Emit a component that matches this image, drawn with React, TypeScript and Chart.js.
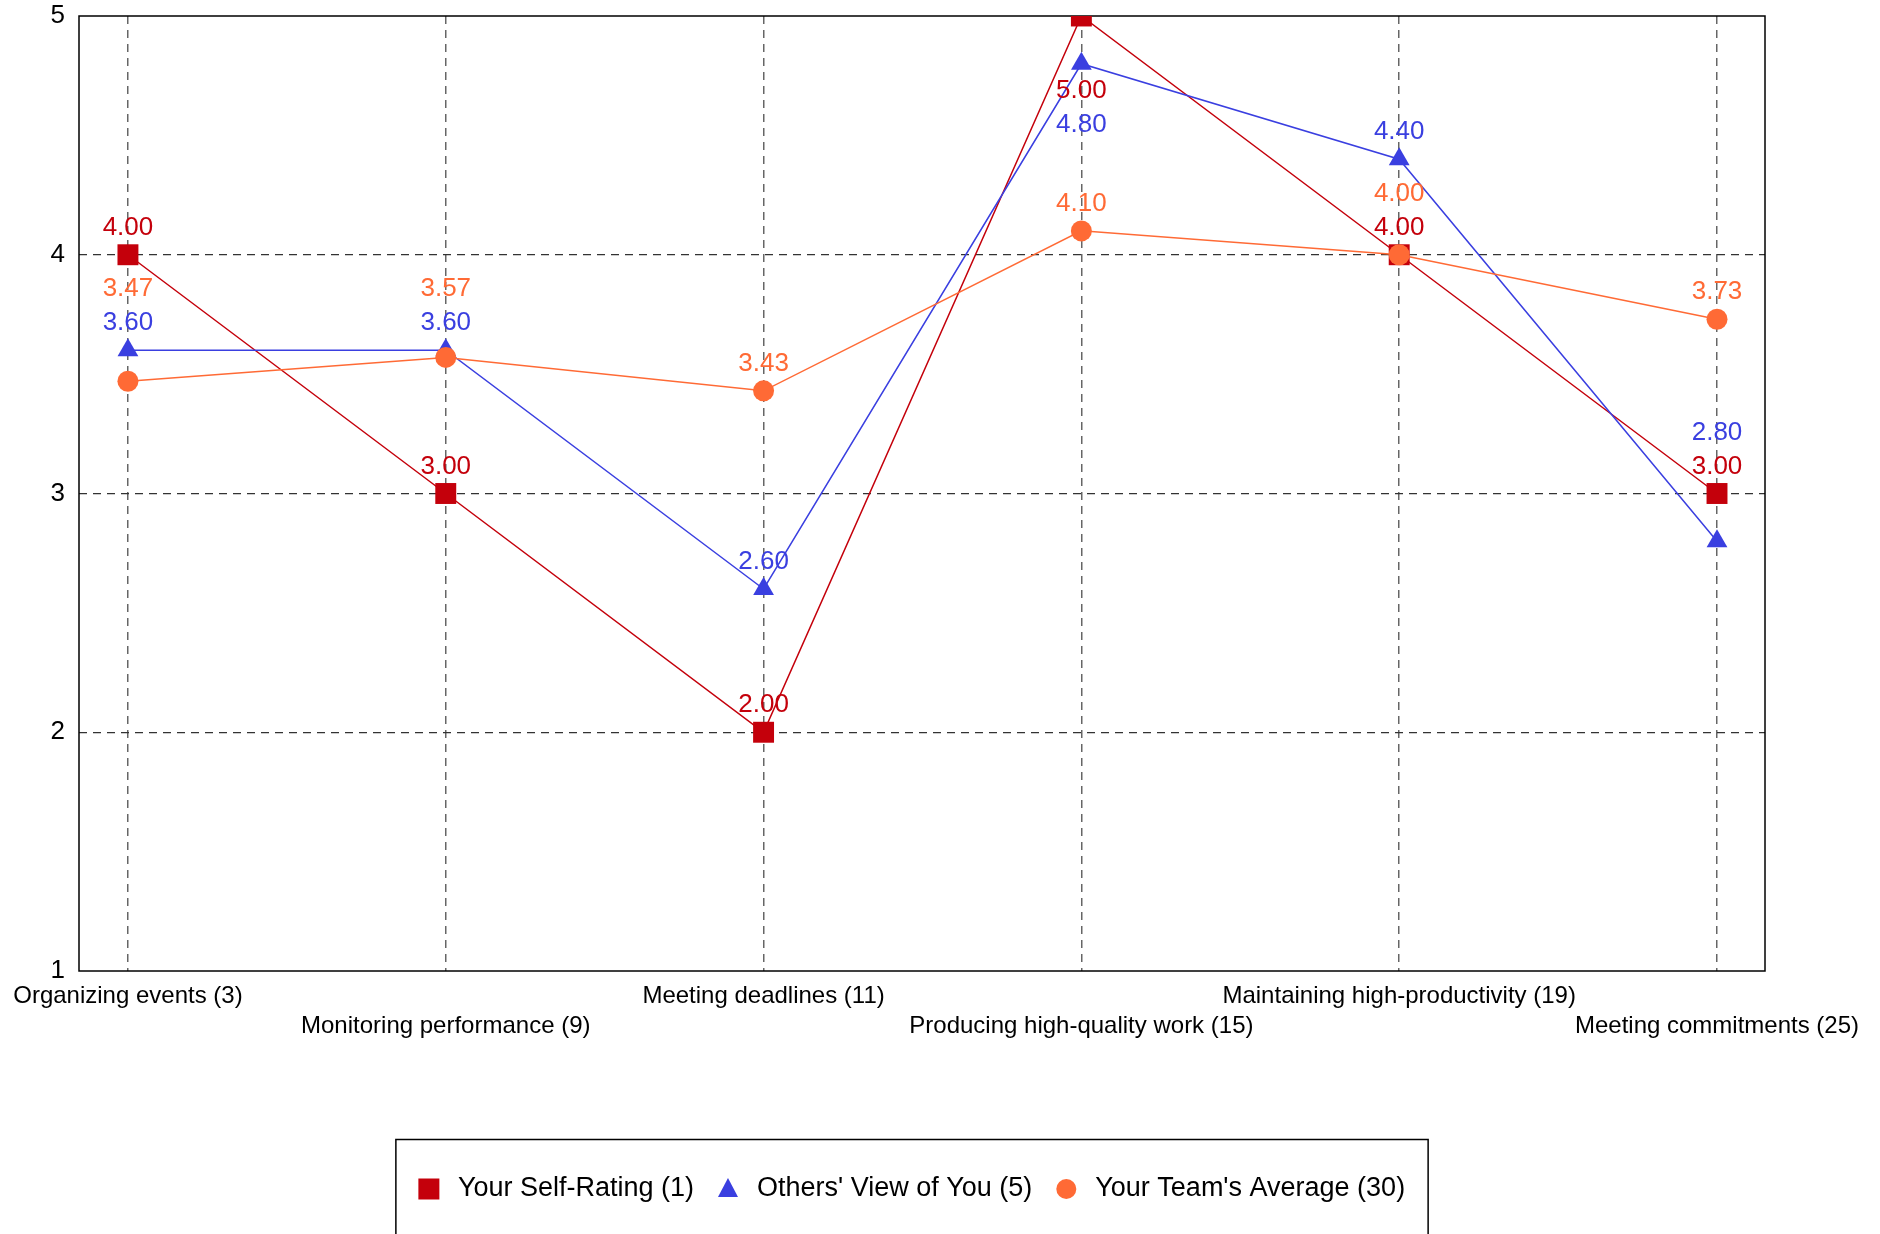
import React, { useEffect, useRef } from "react";
import { Chart, registerables } from "chart.js";
Chart.register(...registerables);

const categories = [
  "Organizing events (3)",
  "Monitoring performance (9)",
  "Meeting deadlines (11)",
  "Producing high-quality work (15)",
  "Maintaining high-productivity (19)",
  "Meeting commitments (25)",
];
const selfRating = [4.0, 3.0, 2.0, 5.0, 4.0, 3.0];
const othersView = [3.6, 3.6, 2.6, 4.8, 4.4, 2.8];
const teamAverage = [3.47, 3.57, 3.43, 4.1, 4.0, 3.73];
const seriesNames = ["Your Self-Rating (1)", "Others' View of You (5)", "Your Team's Average (30)"];
const yTicks = [1, 2, 3, 4, 5];

const RED = "#C4000B";
const BLUE = "#3A3FE0";
const ORANGE = "#FF6A35";
const FONT = "'Liberation Sans', Arial, Helvetica, sans-serif";

const borderPlugin = {
  id: "plotBorder",
  beforeDatasetsDraw(chart: any) {
    const { ctx, chartArea: a } = chart;
    ctx.save();
    ctx.strokeStyle = "#000";
    ctx.lineWidth = 1.5;
    ctx.strokeRect(a.left, a.top, a.right - a.left, a.bottom - a.top);
    ctx.restore();
  },
};

const labelPlugin = {
  id: "valueLabels",
  afterDatasetsDraw(chart: any) {
    const { ctx, chartArea: area } = chart;
    const ys = chart.scales.y;
    const OFF = 27;
    const GAP = 34;
    const minY = area.top + 12;
    ctx.save();
    ctx.font = `26px ${FONT}`;
    ctx.textAlign = "center";
    ctx.textBaseline = "middle";
    const xs = chart.scales.x;
    categories.forEach((_, i) => {
      const items = chart.data.datasets.map((ds: any, d: number) => ({
        d,
        v: ds.data[i].y,
        py: ys.getPixelForValue(ds.data[i].y),
        color: ds.borderColor,
      }));
      const markers = items.map((it: any) => it.py);
      const order = [...items].sort((a: any, b: any) => b.v - a.v || a.d - b.d);
      const placed: number[] = [];
      const conflict = (y: number) => {
        for (const p of placed) if (Math.abs(p - y) < GAP - 0.5) return { y: p, gap: GAP };
        for (const m of markers) if (Math.abs(m - y) < OFF - 0.5) return { y: m, gap: OFF };
        return null;
      };
      const px = xs.getPixelForValue(i);
      for (const it of order) {
        let y = it.py - OFF;
        let ok = false;
        for (let k = 0; k < 12; k++) {
          const c = conflict(y);
          if (!c) {
            ok = y >= minY;
            break;
          }
          y = c.y - c.gap;
          if (y < minY) break;
        }
        if (!ok) {
          y = it.py + OFF;
          for (let k = 0; k < 12; k++) {
            const c = conflict(y);
            if (!c) break;
            y = c.y + c.gap;
          }
        }
        placed.push(y);
        ctx.fillStyle = it.color;
        ctx.fillText(it.v.toFixed(2), px, y);
      }
    });
    ctx.restore();
  },
};

const legendPlugin = {
  id: "boxLegend",
  afterDraw(chart: any) {
    const { ctx } = chart;
    ctx.save();
    ctx.font = `27px ${FONT}`;
    ctx.textBaseline = "middle";
    ctx.textAlign = "left";
    const MW = 20;
    const TG = 19;
    const IG = 24;
    const dss = chart.data.datasets;
    let total = 0;
    dss.forEach((ds: any, k: number) => {
      total += MW + TG + ctx.measureText(ds.label).width + (k < dss.length - 1 ? IG : 0);
    });
    const center = 912;
    const pad = 23;
    const boxL = center - total / 2 - pad;
    const boxW = total + 2 * pad;
    ctx.strokeStyle = "#000";
    ctx.lineWidth = 1.5;
    ctx.strokeRect(boxL, 1139.5, boxW, 200);
    const cy = 1189;
    let x = center - total / 2;
    dss.forEach((ds: any) => {
      ctx.fillStyle = ds.borderColor;
      const cx = x + MW / 2;
      ctx.beginPath();
      if (ds.pointStyle === "rect") {
        ctx.rect(cx - 10.5, cy - 10.5, 21, 21);
      } else if (ds.pointStyle === "triangle") {
        ctx.moveTo(cx, cy - 11);
        ctx.lineTo(cx + 10, cy + 8);
        ctx.lineTo(cx - 10, cy + 8);
        ctx.closePath();
      } else {
        ctx.arc(cx, cy, 10, 0, Math.PI * 2);
      }
      ctx.fill();
      x += MW + TG;
      ctx.fillStyle = "#000";
      ctx.fillText(ds.label, x, cy);
      x += ctx.measureText(ds.label).width + IG;
    });
    ctx.restore();
  },
};

export default function App() {
  const ref = useRef<HTMLCanvasElement | null>(null);
  useEffect(() => {
    if (!ref.current) return;
    const toPts = (arr: number[]) => arr.map((v, i) => ({ x: i, y: v }));
    const chart = new Chart(ref.current, {
      type: "line",
      data: {
        datasets: [
          {
            label: seriesNames[0],
            data: toPts(selfRating),
            borderColor: RED,
            backgroundColor: RED,
            pointBackgroundColor: RED,
            pointBorderColor: RED,
            pointStyle: "rect",
            pointRadius: 14.8,
            pointBorderWidth: 0,
            borderWidth: 1.5,
            order: 2,
          },
          {
            label: seriesNames[1],
            data: toPts(othersView),
            borderColor: BLUE,
            backgroundColor: BLUE,
            pointBackgroundColor: BLUE,
            pointBorderColor: BLUE,
            pointStyle: "triangle",
            pointRadius: 12,
            pointBorderWidth: 0,
            borderWidth: 1.5,
            order: 1,
          },
          {
            label: seriesNames[2],
            data: toPts(teamAverage),
            borderColor: ORANGE,
            backgroundColor: ORANGE,
            pointBackgroundColor: ORANGE,
            pointBorderColor: ORANGE,
            pointStyle: "circle",
            pointRadius: 10.5,
            pointBorderWidth: 0,
            borderWidth: 1.5,
            order: 0,
          },
        ],
      },
      options: {
        responsive: false,
        animation: false,
        layout: { padding: { top: 16, right: 115, left: 0, bottom: 0 } },
        plugins: { legend: { display: false }, tooltip: { enabled: false } },
        scales: {
          x: {
            type: "linear",
            min: -0.154,
            max: 5.151,
            afterBuildTicks: (s: any) => {
              s.ticks = categories.map((_, i) => ({ value: i }));
            },
            afterFit: (s: any) => {
              s.height = 263;
            },
            ticks: {
              autoSkip: false,
              maxRotation: 0,
              minRotation: 0,
              padding: 10,
              color: "#000",
              font: { size: 24, family: FONT, lineHeight: 1.25 },
              callback: (v: any) => {
                const i = Math.round(Number(v));
                return i % 2 === 0 ? categories[i] : ["", categories[i]];
              },
            },
            grid: { drawTicks: false, color: "#666", lineWidth: 1.5 },
            border: { display: false, dash: [8, 6] },
          },
          y: {
            type: "linear",
            min: 1,
            max: 5,
            afterBuildTicks: (s: any) => {
              s.ticks = yTicks.map((v) => ({ value: v }));
            },
            afterFit: (s: any) => {
              s.width = 79;
              s.paddingTop = 0;
              s.paddingBottom = 0;
            },
            ticks: {
              padding: 14,
              color: "#000",
              font: { size: 26, family: FONT },
              callback: (v: any) => String(v),
            },
            grid: {
              drawTicks: false,
              lineWidth: 1.3,
              color: (c: any) =>
                c.tick && (c.tick.value === 1 || c.tick.value === 5) ? "rgba(0,0,0,0)" : "#333",
            },
            border: { display: false, dash: [8, 6] },
          },
        },
      },
      plugins: [borderPlugin, labelPlugin, legendPlugin],
    } as any);
    return () => chart.destroy();
  }, []);
  return (
    <div style={{ position: "absolute", left: 0, top: 0, width: 1880, height: 1234, background: "#fff" }}>
      <canvas ref={ref} width={1880} height={1234} />
    </div>
  );
}
